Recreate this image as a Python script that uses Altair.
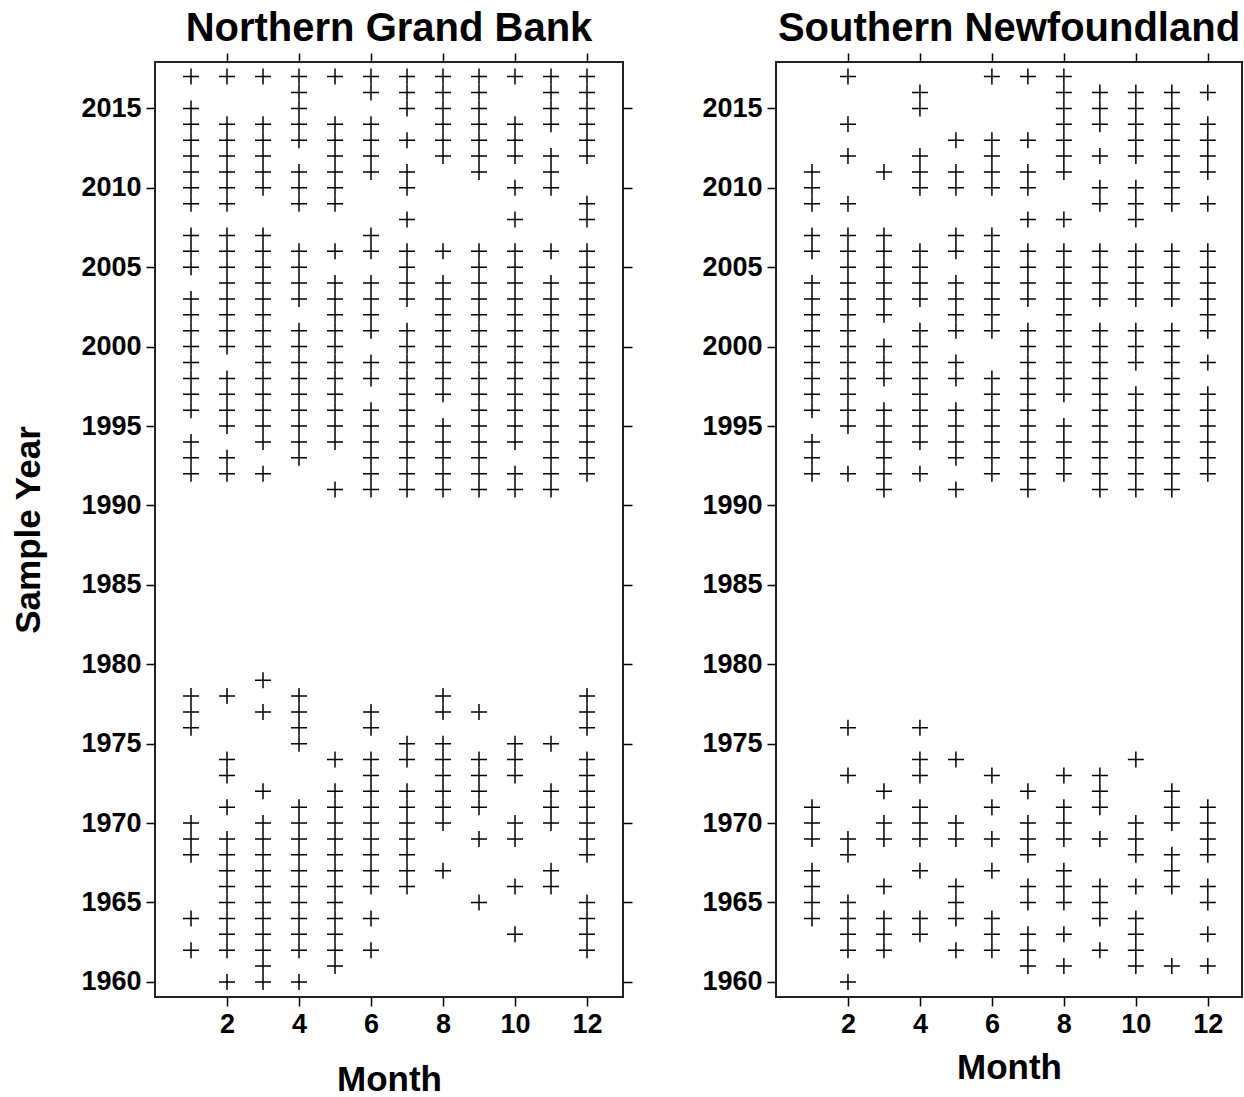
import altair as alt
import pandas as pd

# Northern Grand Bank: sample years by month
ngb_m01 = [2017, 2015, 2014, 2013, 2012, 2011, 2010, 2009, 2007, 2006, 2005, 2003, 2002, 2001, 2000, 1999, 1998, 1997, 1996, 1994, 1993, 1992, 1978, 1977, 1976, 1970, 1969, 1968, 1964, 1962]
ngb_m02 = [2017, 2014, 2013, 2012, 2011, 2010, 2009, 2007, 2006, 2005, 2004, 2003, 2002, 2001, 2000, 1998, 1997, 1996, 1995, 1993, 1992, 1978, 1974, 1973, 1971, 1969, 1968, 1967, 1966, 1965, 1964, 1963, 1962, 1960]
ngb_m03 = [2017, 2014, 2013, 2012, 2011, 2010, 2007, 2006, 2005, 2004, 2003, 2002, 2001, 2000, 1999, 1998, 1997, 1996, 1995, 1994, 1992, 1979, 1977, 1972, 1970, 1969, 1968, 1967, 1966, 1965, 1964, 1963, 1962, 1961, 1960]
ngb_m04 = [2017, 2016, 2015, 2014, 2013, 2011, 2010, 2009, 2006, 2005, 2004, 2003, 2001, 2000, 1999, 1998, 1997, 1996, 1995, 1994, 1993, 1978, 1977, 1976, 1975, 1971, 1970, 1969, 1968, 1967, 1966, 1965, 1964, 1963, 1962, 1960]
ngb_m05 = [2017, 2014, 2013, 2012, 2011, 2010, 2009, 2006, 2004, 2003, 2002, 2001, 2000, 1999, 1998, 1997, 1996, 1995, 1994, 1991, 1974, 1972, 1971, 1970, 1969, 1968, 1967, 1966, 1965, 1964, 1963, 1962, 1961]
ngb_m06 = [2017, 2016, 2014, 2013, 2012, 2011, 2007, 2006, 2004, 2003, 2002, 2001, 1999, 1998, 1996, 1995, 1994, 1993, 1992, 1991, 1977, 1976, 1974, 1973, 1972, 1971, 1970, 1969, 1968, 1967, 1966, 1964, 1962]
ngb_m07 = [2017, 2016, 2015, 2013, 2011, 2010, 2008, 2006, 2005, 2004, 2003, 2001, 2000, 1999, 1998, 1997, 1996, 1995, 1994, 1993, 1992, 1991, 1975, 1974, 1972, 1971, 1970, 1969, 1968, 1967, 1966]
ngb_m08 = [2017, 2016, 2015, 2014, 2013, 2012, 2006, 2004, 2003, 2002, 2001, 2000, 1999, 1998, 1997, 1995, 1994, 1993, 1992, 1991, 1978, 1977, 1975, 1974, 1973, 1972, 1971, 1970, 1967]
ngb_m09 = [2017, 2016, 2015, 2014, 2013, 2012, 2011, 2006, 2005, 2004, 2003, 2002, 2001, 2000, 1999, 1998, 1997, 1996, 1995, 1994, 1993, 1992, 1991, 1977, 1974, 1973, 1972, 1971, 1969, 1965]
ngb_m10 = [2017, 2014, 2013, 2012, 2010, 2008, 2006, 2005, 2004, 2003, 2002, 2001, 2000, 1999, 1998, 1997, 1996, 1995, 1994, 1992, 1991, 1975, 1974, 1973, 1970, 1969, 1966, 1963]
ngb_m11 = [2017, 2016, 2015, 2014, 2012, 2011, 2010, 2006, 2004, 2003, 2002, 2001, 2000, 1999, 1998, 1997, 1996, 1995, 1994, 1993, 1992, 1991, 1975, 1972, 1971, 1970, 1967, 1966]
ngb_m12 = [2017, 2016, 2015, 2014, 2013, 2012, 2009, 2008, 2006, 2005, 2004, 2003, 2002, 2001, 2000, 1999, 1998, 1997, 1996, 1995, 1994, 1993, 1992, 1978, 1977, 1976, 1974, 1973, 1972, 1971, 1970, 1969, 1968, 1965, 1964, 1963, 1962]

# Southern Newfoundland: sample years by month
sn_m01 = [2011, 2010, 2009, 2007, 2006, 2004, 2003, 2002, 2001, 2000, 1999, 1998, 1997, 1996, 1994, 1993, 1992, 1971, 1970, 1969, 1967, 1966, 1965, 1964]
sn_m02 = [2017, 2014, 2012, 2009, 2007, 2006, 2005, 2004, 2003, 2002, 2001, 2000, 1999, 1998, 1997, 1996, 1995, 1992, 1976, 1973, 1969, 1968, 1965, 1964, 1963, 1962, 1960]
sn_m03 = [2011, 2007, 2006, 2005, 2004, 2003, 2002, 2000, 1999, 1998, 1996, 1995, 1994, 1993, 1992, 1991, 1972, 1970, 1969, 1966, 1964, 1963, 1962]
sn_m04 = [2016, 2015, 2012, 2011, 2010, 2006, 2005, 2004, 2003, 2001, 2000, 1999, 1998, 1997, 1996, 1995, 1994, 1992, 1976, 1974, 1973, 1971, 1970, 1969, 1967, 1964, 1963]
sn_m05 = [2013, 2011, 2010, 2007, 2006, 2004, 2003, 2002, 2001, 1999, 1998, 1996, 1995, 1994, 1993, 1991, 1974, 1970, 1969, 1966, 1965, 1964, 1962]
sn_m06 = [2017, 2013, 2012, 2011, 2010, 2007, 2006, 2005, 2004, 2003, 2002, 2001, 1998, 1997, 1996, 1995, 1994, 1993, 1992, 1973, 1971, 1969, 1967, 1964, 1963, 1962]
sn_m07 = [2017, 2013, 2011, 2010, 2008, 2006, 2005, 2004, 2003, 2001, 2000, 1999, 1998, 1997, 1996, 1995, 1994, 1993, 1992, 1991, 1972, 1970, 1969, 1968, 1966, 1965, 1963, 1962, 1961]
sn_m08 = [2017, 2016, 2015, 2014, 2013, 2012, 2011, 2008, 2006, 2005, 2004, 2003, 2002, 2001, 2000, 1999, 1998, 1997, 1995, 1994, 1993, 1992, 1973, 1971, 1970, 1969, 1967, 1966, 1965, 1963, 1961]
sn_m09 = [2016, 2015, 2014, 2012, 2010, 2009, 2006, 2005, 2004, 2003, 2001, 2000, 1999, 1998, 1997, 1996, 1995, 1994, 1993, 1992, 1991, 1973, 1972, 1971, 1969, 1966, 1965, 1964, 1962]
sn_m10 = [2016, 2015, 2014, 2013, 2012, 2010, 2009, 2008, 2006, 2005, 2004, 2003, 2001, 2000, 1999, 1997, 1996, 1995, 1994, 1993, 1992, 1991, 1974, 1970, 1969, 1968, 1966, 1964, 1963, 1962, 1961]
sn_m11 = [2016, 2015, 2014, 2013, 2012, 2011, 2010, 2009, 2006, 2005, 2004, 2003, 2001, 2000, 1999, 1998, 1997, 1996, 1995, 1994, 1993, 1992, 1991, 1972, 1971, 1970, 1968, 1967, 1966, 1961]
sn_m12 = [2016, 2014, 2013, 2012, 2011, 2009, 2006, 2005, 2004, 2003, 2002, 2001, 1999, 1997, 1996, 1995, 1994, 1993, 1992, 1971, 1970, 1969, 1968, 1966, 1965, 1963, 1961]

months = [1, 2, 3, 4, 5, 6, 7, 8, 9, 10, 11, 12]
ngb_lists = [ngb_m01, ngb_m02, ngb_m03, ngb_m04, ngb_m05, ngb_m06,
             ngb_m07, ngb_m08, ngb_m09, ngb_m10, ngb_m11, ngb_m12]
sn_lists = [sn_m01, sn_m02, sn_m03, sn_m04, sn_m05, sn_m06,
            sn_m07, sn_m08, sn_m09, sn_m10, sn_m11, sn_m12]

x_ticks = [2, 4, 6, 8, 10, 12]
y_ticks = [1960, 1965, 1970, 1975, 1980, 1985, 1990, 1995, 2000, 2005, 2010, 2015]


def to_df(lists):
    rows = []
    for m, ys in zip(months, lists):
        for y in ys:
            rows.append({"month": m, "year": y})
    return pd.DataFrame(rows)


ngb_df = to_df(ngb_lists)
sn_df = to_df(sn_lists)

CROSS = "M-1,0L1,0M0,-1L0,1"
FONT = "Liberation Sans"


def panel(df, title, ytitle, w, h, xdom, ydom, xtitle_pad, title_offset, right_ticks):
    xs = alt.Scale(domain=xdom, nice=False, zero=False)
    ys = alt.Scale(domain=ydom, nice=False, zero=False)
    base = alt.Chart(df)
    pts = base.mark_point(shape=CROSS, size=256, filled=False, stroke="black",
                          strokeWidth=1.5, opacity=1).encode(
        x=alt.X("month:Q", scale=xs,
                axis=alt.Axis(values=x_ticks, title="Month", titlePadding=xtitle_pad,
                              labelPadding=5)),
        y=alt.Y("year:Q", scale=ys,
                axis=alt.Axis(values=y_ticks, format="d", title=ytitle,
                              titlePadding=34, labelPadding=5)),
    )
    if right_ticks:
        mirror_y = alt.Y("year:Q", scale=ys,
                         axis=alt.Axis(orient="right", values=y_ticks, labels=False, title=None))
    else:
        mirror_y = alt.Y("year:Q", scale=ys, axis=None)
    mirror = base.mark_point(opacity=0).encode(
        x=alt.X("month:Q", scale=xs,
                axis=alt.Axis(orient="top", values=x_ticks, labels=False, title=None)),
        y=mirror_y,
    )
    return alt.layer(pts, mirror).resolve_axis(x="independent", y="independent").properties(
        width=w, height=h,
        title=alt.TitleParams(title, fontSize=40, font=FONT, fontWeight="bold",
                              color="black", anchor="middle", frame="group",
                              offset=title_offset),
    )


left = panel(ngb_df, "Northern Grand Bank", "Sample Year", 468, 935,
             [0, 13], [1959.05, 2017.92], 25, 3, True)
right = panel(sn_df, "Southern Newfoundland", None, 466, 935,
              [0, 12.95], [1959.05, 2017.92], 13, 3, False)

chart = alt.hconcat(left, right, spacing=66).configure_view(
    stroke="#222222", strokeWidth=2
).configure_axis(
    grid=False, domain=False, tickColor="black", tickWidth=1.5, tickSize=9,
    labelFont=FONT, labelFontWeight="bold", labelFontSize=27, labelColor="black",
    titleFont=FONT, titleFontWeight="bold", titleFontSize=35, titleColor="black",
).properties(
    padding={"left": 10, "top": 8, "right": 0, "bottom": 0},
    background="white",
)

chart.save("out.html", embed_options={"renderer": "svg", "actions": False})
